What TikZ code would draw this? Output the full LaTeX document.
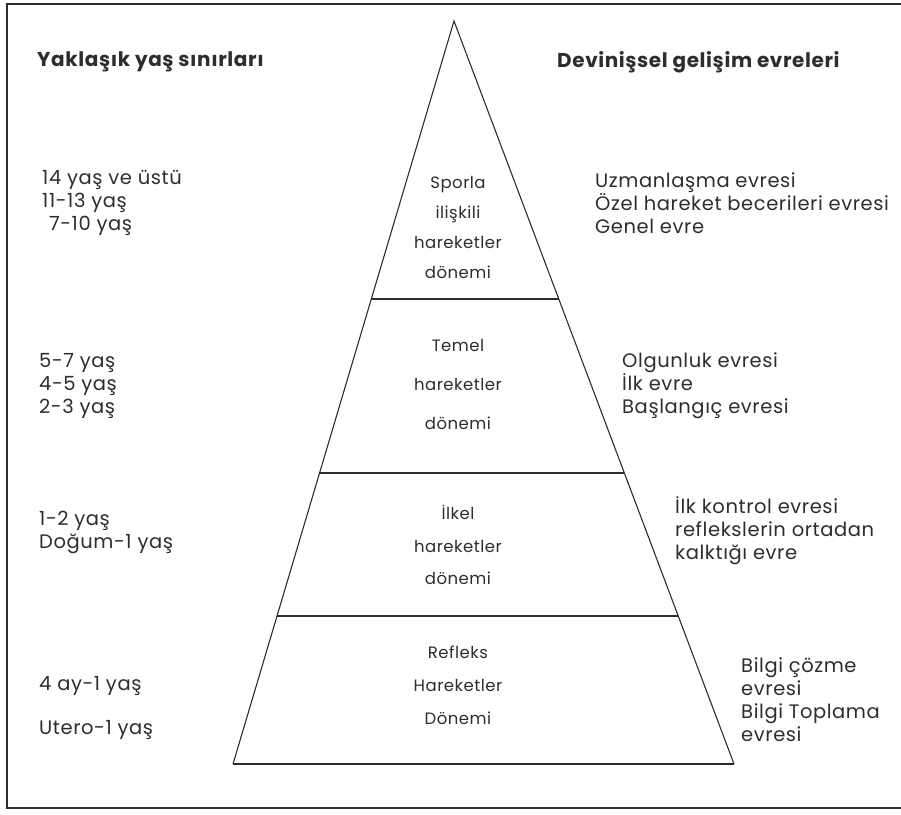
\documentclass[tikz,border=0pt]{standalone}
\usepackage{fontspec}
\setmainfont{Poppins}
\newfontfamily\widefont[LetterSpace=3]{Poppins}
\usepackage{tikz}
\usetikzlibrary{calc}
\definecolor{ink}{RGB}{45,45,45}
\tikzset{
	ages/.style={anchor=west, align=left, inner sep=0pt, text=ink, font=\widefont\fontsize{19.5}{23}\selectfont},
	band/.style={align=center, inner sep=0pt, text=ink, font=\widefont\fontsize{16.5}{#1}\selectfont},
	head/.style={anchor=west, inner sep=0pt, text=ink, font=\widefont\bfseries\fontsize{20}{22}\selectfont},
}

\begin{document}
\begin{tikzpicture}[x=1pt, y=-1pt]
			\useasboundingbox (0, 0) rectangle (901, 814);
			\draw [ink, line width=1.8pt] (901, 4) -- (7, 4) -- (7, 808) -- (901, 808);
			\coordinate (apex) at (454, 21);
			\coordinate (bl) at (233, 764);
			\coordinate (br) at (734, 764);
			\draw [ink, line width=1.1pt, line join=miter] (bl) -- (apex) -- (br);
			\foreach \t in {0.374, 0.608, 0.801, 1}
				\draw [ink, line width=1.8pt] ($(apex)!\t!(bl)$) -- ($(apex)!\t!(br)$);
			\node [head] (agehead) at (37, 62) {Yaklaşık yaş sınırları};
			\node [head] (stagehead) at (557, 62) {Devinişsel gelişim evreleri};
			\node [band=30] (sport) at (458, 227) {Sporla\\ilişkili\\hareketler\\dönemi};
			\node [band=39] (basic) at (458, 384) {Temel\\hareketler\\dönemi};
			\node [band=32.5] (rudiment) at (458, 545) {İlkel\\hareketler\\dönemi};
			\node [band=33] (reflex) at (458, 685) {Refleks\\Hareketler\\Dönemi};
			\node [ages] (sportages) at (42, 203) {14 yaş ve üstü\\11-13 yaş\\\hspace{7pt}7-10 yaş};
			\node [ages] (basicages) at (39, 386) {5-7 yaş\\4-5 yaş\\2-3 yaş};
			\node [ages] (rudimentages) at (39, 532) {1-2 yaş\\Doğum-1 yaş};
			\node [ages] (reflexages) at (39, 686) {4 ay-1 yaş};
			\node [ages] (uteroages) at (39, 730) {Utero-1 yaş};
			\node [ages] (sportstages) at (595, 203) {Uzmanlaşma evresi\\Özel hareket becerileri evresi\\Genel evre};
			\node [ages] (basicstages) at (622, 386) {Olgunluk evresi\\İlk evre\\Başlangıç evresi};
			\node [ages] (rudimentstages) at (675, 531) {İlk kontrol evresi\\reflekslerin ortadan\\kalktığı evre};
			\node [ages] (reflexstages) at (741, 700) {Bilgi çözme\\evresi\\Bilgi Toplama\\evresi};
		\end{tikzpicture}
\end{document}
